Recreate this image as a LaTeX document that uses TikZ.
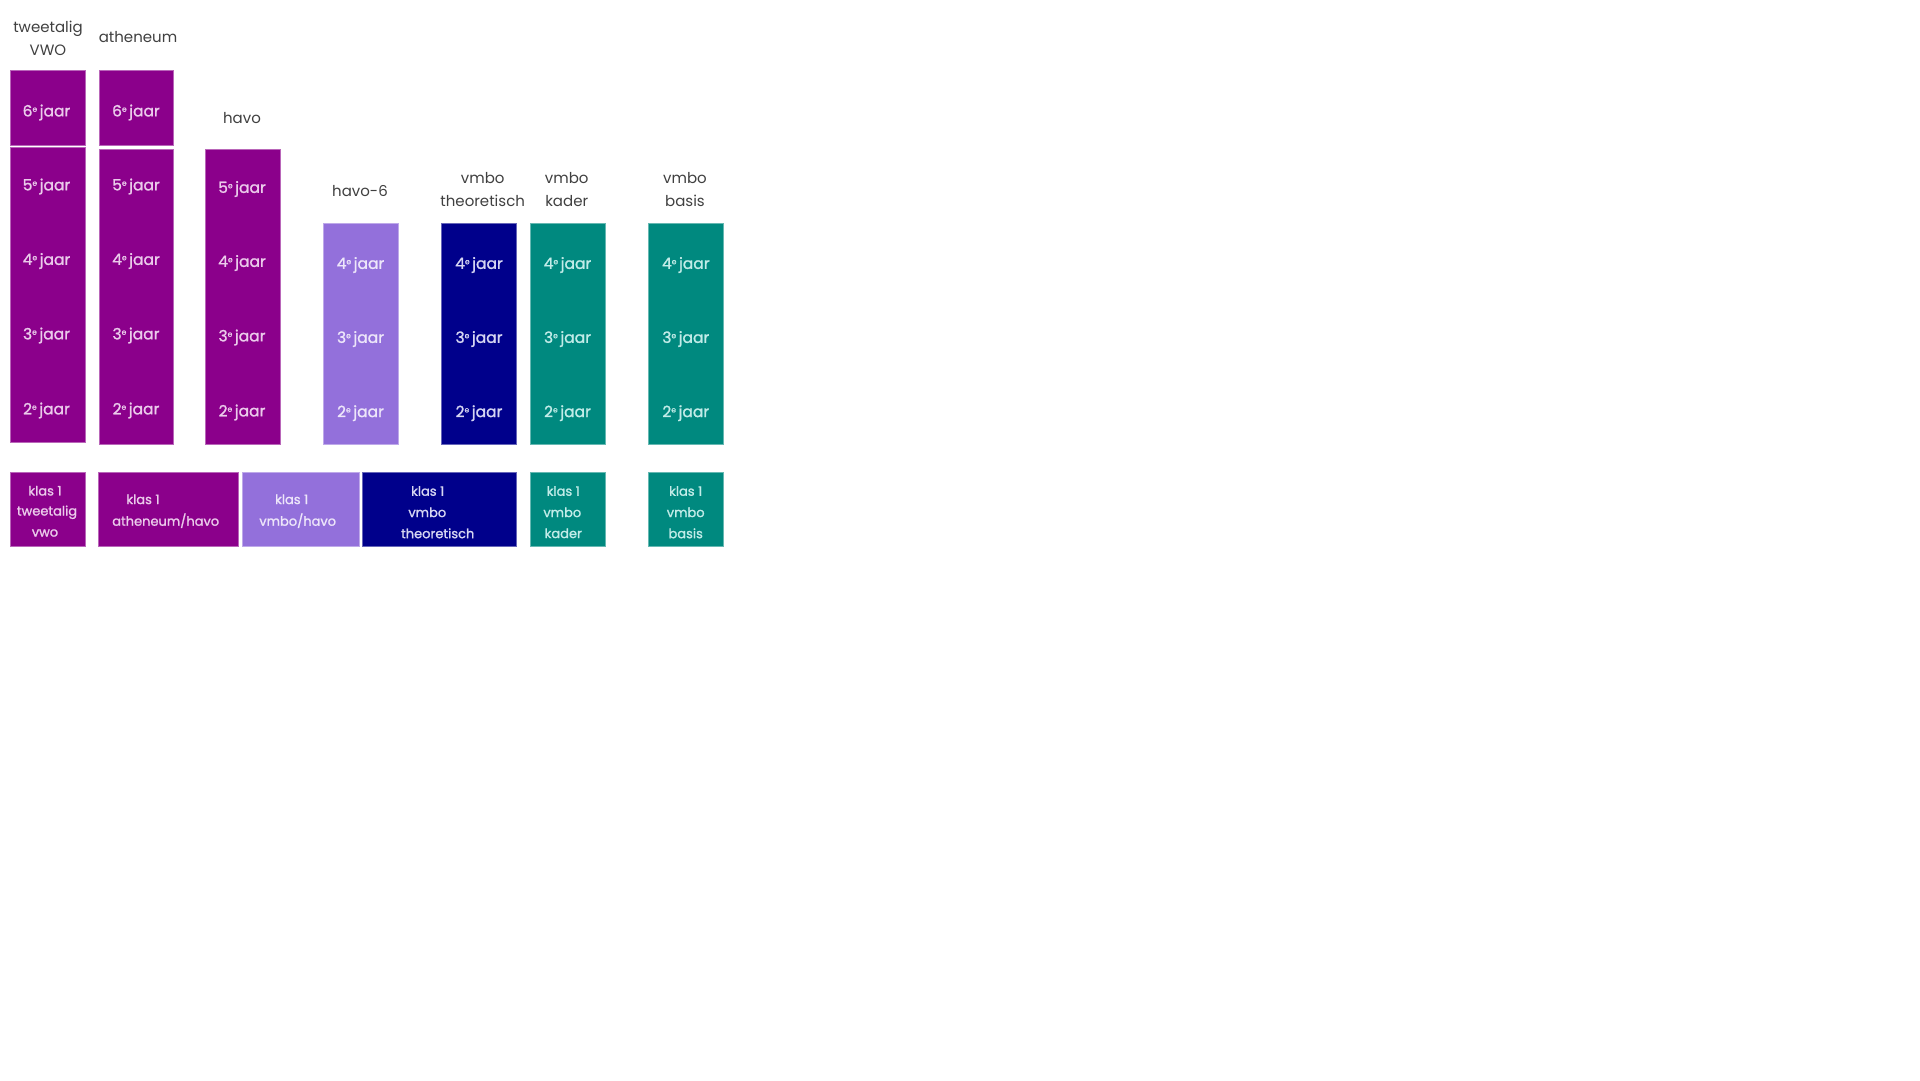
\documentclass[tikz,border=0pt]{standalone}
\usepackage{fontspec}
\setmainfont{Poppins}
\newfontfamily\boxfont[FakeBold=1.3]{Poppins}
\definecolor{cpurple}{HTML}{8B008B}
\definecolor{clav}{HTML}{9370DB}
\definecolor{cnavy}{HTML}{00008B}
\definecolor{cteal}{HTML}{00897F}
\definecolor{tpurple}{HTML}{EBCBEB}
\definecolor{tlav}{HTML}{EDE6FA}
\definecolor{tnavy}{HTML}{D6D6F2}
\definecolor{tteal}{HTML}{C2ECE8}
\definecolor{thead}{HTML}{404040}
\newcommand{\yr}[1]{#1{\raisebox{0.55ex}{\fontsize{7.5}{7.5}\selectfont e}}\,jaar}
\tikzset{
  colbox/.style={rectangle, inner sep=0pt, outer sep=0pt, anchor=north west, line width=0.8pt},
  pbox/.style={colbox, fill=cpurple, draw=cpurple!60!white},
  lbox/.style={colbox, fill=clav, draw=clav!60!white},
  nbox/.style={colbox, fill=cnavy, draw=cnavy!60!white},
  tbox/.style={colbox, fill=cteal, draw=cteal!60!white},
  yrtext/.style={inner sep=0pt, yshift=-2.5pt, font=\boxfont\fontsize{15.5}{16}\selectfont},
  kltext/.style={inner sep=0pt, font=\boxfont\fontsize{13}{14}\selectfont},
  head/.style={inner sep=0pt, text=thead, align=center, font=\fontsize{15}{23}\selectfont}
}
\begin{document}
\begin{tikzpicture}[x=1pt,y=-1pt]
\useasboundingbox[fill=white] (0,0) rectangle (1920,1080);
% headings
\node[head] (htw) at (48,38.5) {tweetalig\\VWO};
\node[head] (hat) at (138,37) {atheneum};
\node[head] (hhv) at (242,118) {havo};
\node[head] (hh6) at (360,191) {havo-6};
\node[head] (hvt) at (482.7,189.5) {vmbo\\theoretisch};
\node[head] (hvk) at (566.7,189.5) {vmbo\\kader};
\node[head] (hvb) at (685,189.5) {vmbo\\basis};
% column boxes
\node[pbox, minimum width=74.3pt, minimum height=74.3pt] (tw6) at (10.7,70.7) {};
\node[pbox, minimum width=74.3pt, minimum height=295.4pt] (tw) at (10.7,147.3) {};
\node[pbox, minimum width=74pt, minimum height=74.3pt] (at6) at (99.3,70.7) {};
\node[pbox, minimum width=74pt, minimum height=295pt] (at) at (99.3,149) {};
\node[pbox, minimum width=74.3pt, minimum height=295pt] (hv) at (205.7,149) {};
\node[lbox, minimum width=75pt, minimum height=220.7pt] (h6) at (323.3,223.3) {};
\node[nbox, minimum width=75pt, minimum height=220.7pt] (vt) at (441.7,223.3) {};
\node[tbox, minimum width=75pt, minimum height=220.7pt] (vk) at (530,223.3) {};
\node[tbox, minimum width=75pt, minimum height=220.7pt] (vb) at (648.3,223.3) {};
% year labels
\node[yrtext, text=tpurple] (tw6y) at (46.5,110) {\yr{6}};
\node[yrtext, text=tpurple] (tw5y) at (46.5,184) {\yr{5}};
\node[yrtext, text=tpurple] (tw4y) at (46.5,258.5) {\yr{4}};
\node[yrtext, text=tpurple] (tw3y) at (46.5,333) {\yr{3}};
\node[yrtext, text=tpurple] (tw2y) at (46.5,408) {\yr{2}};
\node[yrtext, text=tpurple] (at6y) at (136,110) {\yr{6}};
\node[yrtext, text=tpurple] (at5y) at (136,184) {\yr{5}};
\node[yrtext, text=tpurple] (at4y) at (136,258.5) {\yr{4}};
\node[yrtext, text=tpurple] (at3y) at (136,333) {\yr{3}};
\node[yrtext, text=tpurple] (at2y) at (136,408) {\yr{2}};
\node[yrtext, text=tpurple] (hv5y) at (242,186.5) {\yr{5}};
\node[yrtext, text=tpurple] (hv4y) at (242,260.5) {\yr{4}};
\node[yrtext, text=tpurple] (hv3y) at (242,335) {\yr{3}};
\node[yrtext, text=tpurple] (hv2y) at (242,410) {\yr{2}};
\node[yrtext, text=tlav] (h64y) at (360.5,262.5) {\yr{4}};
\node[yrtext, text=tlav] (h63y) at (360.5,336.5) {\yr{3}};
\node[yrtext, text=tlav] (h62y) at (360.5,410.7) {\yr{2}};
\node[yrtext, text=tnavy] (vt4y) at (479,262.5) {\yr{4}};
\node[yrtext, text=tnavy] (vt3y) at (479,336.5) {\yr{3}};
\node[yrtext, text=tnavy] (vt2y) at (479,410.7) {\yr{2}};
\node[yrtext, text=tteal] (vk4y) at (567.5,262.5) {\yr{4}};
\node[yrtext, text=tteal] (vk3y) at (567.5,336.5) {\yr{3}};
\node[yrtext, text=tteal] (vk2y) at (567.5,410.7) {\yr{2}};
\node[yrtext, text=tteal] (vb4y) at (685.8,262.5) {\yr{4}};
\node[yrtext, text=tteal] (vb3y) at (685.8,336.5) {\yr{3}};
\node[yrtext, text=tteal] (vb2y) at (685.8,410.7) {\yr{2}};
% klas 1 boxes
\node[pbox, minimum width=74.3pt, minimum height=74.4pt] (k1tw) at (10.7,472.3) {};
\node[pbox, minimum width=140.7pt, minimum height=74.4pt] (k1ah) at (98,472.3) {};
\node[lbox, minimum width=116.7pt, minimum height=74.4pt] (k1vh) at (242.3,472.3) {};
\node[nbox, minimum width=154pt, minimum height=74.4pt] (k1vt) at (362.7,472.3) {};
\node[tbox, minimum width=75pt, minimum height=74.4pt] (k1vk) at (530,472.3) {};
\node[tbox, minimum width=75pt, minimum height=74.4pt] (k1vb) at (648.3,472.3) {};
% klas 1 texts
\node[kltext, text=tpurple] (t1a) at (45,490.7) {klas 1};
\node[kltext, text=tpurple] (t1b) at (47,512.3) {tweetalig};
\node[kltext, text=tpurple] (t1c) at (45,533) {vwo};
\node[kltext, text=tpurple] (t2a) at (143,499.3) {klas 1};
\node[kltext, text=tpurple] (t2b) at (165.7,520.7) {atheneum/havo};
\node[kltext, text=tlav] (t3a) at (291.7,499.3) {klas 1};
\node[kltext, text=tlav] (t3b) at (297.7,520.7) {vmbo/havo};
\node[kltext, text=tnavy] (t4a) at (427.7,491) {klas 1};
\node[kltext, text=tnavy] (t4b) at (427.3,512.3) {vmbo};
\node[kltext, text=tnavy] (t4c) at (437.7,533.3) {theoretisch};
\node[kltext, text=tteal] (t5a) at (563.3,491) {klas 1};
\node[kltext, text=tteal] (t5b) at (562.3,512.3) {vmbo};
\node[kltext, text=tteal] (t5c) at (563.3,533.3) {kader};
\node[kltext, text=tteal] (t6a) at (685.7,491) {klas 1};
\node[kltext, text=tteal] (t6b) at (685.7,512.3) {vmbo};
\node[kltext, text=tteal] (t6c) at (685.7,533.3) {basis};
\end{tikzpicture}
\end{document}
